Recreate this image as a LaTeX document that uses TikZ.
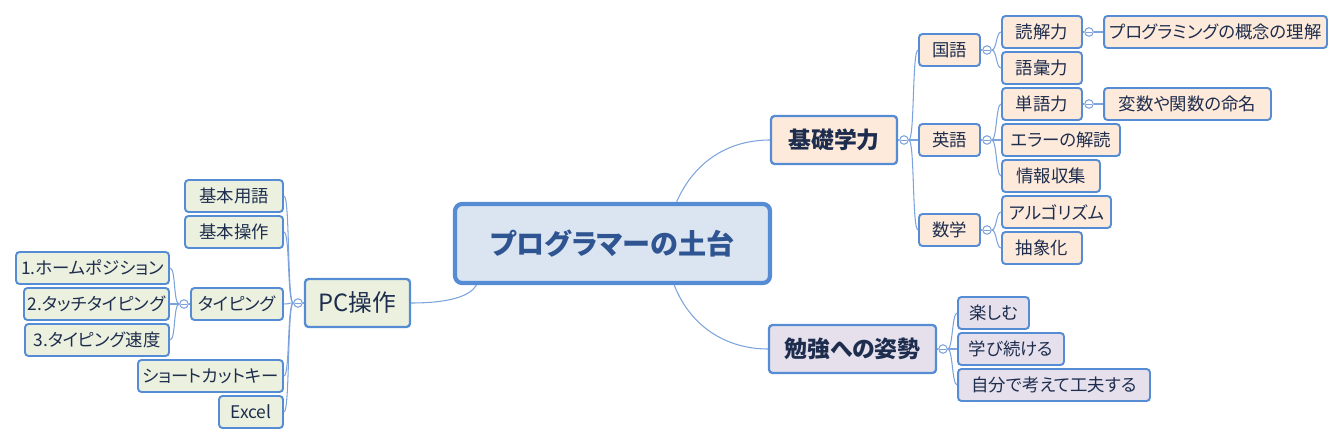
\documentclass[tikz,border=0pt]{standalone}
\usepackage{fontspec}
\setmainfont{Noto Sans CJK JP}[RawFeature={+palt}]
\usepackage{xcolor}
\usepackage{tikz}
\usetikzlibrary{shapes,positioning}

\definecolor{boxblue}{RGB}{86,140,211}
\definecolor{lineblue}{RGB}{125,163,220}
\definecolor{textnavy}{RGB}{30,45,78}
\definecolor{centertext}{RGB}{46,84,145}
\definecolor{centerfill}{RGB}{219,229,241}
\definecolor{peachfill}{RGB}{253,234,218}
\definecolor{greenfill}{RGB}{235,241,222}
\definecolor{lavfill}{RGB}{229,224,236}

\begin{document}
\begin{tikzpicture}[x=0.02cm,y=-0.02cm,
  topic/.style={draw=boxblue,line width=1.1pt,rounded corners=2pt,inner sep=0pt,
    text=textnavy,font=\fontsize{9.9}{11}\selectfont,minimum height=0.64cm},
  maintopic/.style={topic,line width=1.3pt,font=\fontsize{13}{15}\selectfont\bfseries,minimum height=0.96cm},
  centertopic/.style={draw=boxblue,line width=2.4pt,rounded corners=4pt,inner sep=0pt,fill=centerfill,
    text=centertext,font=\fontsize{16}{19}\selectfont\bfseries,minimum width=6.3cm,minimum height=1.58cm},
  collapse/.style={circle,draw=lineblue,fill=white,line width=0.6pt,inner sep=0pt,minimum size=0.17cm,
    path picture={\draw[lineblue,line width=0.5pt] ([xshift=-1.6pt]path picture bounding box.center)
      -- ([xshift=1.6pt]path picture bounding box.center);}},
  branch/.style={draw=lineblue,line width=0.6pt}]
\useasboundingbox (0,0) rectangle (1344,445);

% Central topic
\node[centertopic] (center) at (612.5,243.5) {プログラマーの土台};

% Main topics
\node[maintopic,fill=peachfill,minimum width=2.52cm] (kiso) at (834,140) {基礎学力};
\node[maintopic,fill=lavfill,minimum width=3.34cm] (benkyo) at (852.5,349) {勉強への姿勢};
\node[maintopic,fill=greenfill,minimum width=2.1cm,font=\fontsize{13.5}{15}\selectfont] (pc) at (357.5,303) {PC操作};

\draw[branch] (center.33) .. controls (695,160) and (730,140) .. (kiso.west);
\draw[branch] (center.-34) .. controls (692,330) and (730,349) .. (benkyo.west);
\draw[branch] (center.197) .. controls (470,296) and (450,303) .. (pc.east);

% Collapse buttons
\node[collapse] (ckiso) at (904,140) {};
\node[collapse] (ckokugo) at (987,50) {};
\node[collapse] (ceigo) at (987,140) {};
\node[collapse] (csugaku) at (987,230) {};
\node[collapse] (cdokkai) at (1089,32) {};
\node[collapse] (ctango) at (1089,104) {};
\node[collapse] (cbenkyo) at (943,349) {};
\node[collapse] (cpc) at (298,303) {};
\node[collapse] (ctyping) at (184,304) {};

% 基礎学力
\node[topic,fill=peachfill,minimum width=1.22cm] (kokugo) at (949.5,50) {国語};
\node[topic,fill=peachfill,minimum width=1.22cm] (eigo) at (949.5,140) {英語};
\node[topic,fill=peachfill,minimum width=1.22cm] (sugaku) at (949.5,230) {数学};

\node[topic,fill=peachfill,minimum width=1.6cm] (dokkai) at (1042,32) {読解力};
\node[topic,fill=peachfill,minimum width=1.6cm] (goi) at (1042,68) {語彙力};
\node[topic,fill=peachfill,minimum width=4.46cm] (rikai) at (1215.5,32) {プログラミングの概念の理解};
\node[topic,fill=peachfill,minimum width=1.6cm] (tango) at (1042,104) {単語力};
\node[topic,fill=peachfill,minimum width=3.34cm] (meimei) at (1187.5,104) {変数や関数の命名};
\node[topic,fill=peachfill,minimum width=2.36cm] (error) at (1061,140) {エラーの解読};
\node[topic,fill=peachfill,minimum width=1.96cm] (joho) at (1051,176) {情報収集};
\node[topic,fill=peachfill,minimum width=2.18cm] (algo) at (1056.5,212) {アルゴリズム};
\node[topic,fill=peachfill,minimum width=1.6cm] (chusho) at (1042,248) {抽象化};

\draw[branch] (kiso.east) -- (ckiso.west);
\foreach \child in {kokugo,eigo,sugaku}
  \draw[branch] (ckiso.east) .. controls +(6,0) and +(-6,0) .. (\child.west);
\draw[branch] (kokugo.east) -- (ckokugo.west);
\foreach \child in {dokkai,goi}
  \draw[branch] (ckokugo.east) .. controls +(5,0) and +(-5,0) .. (\child.west);
\draw[branch] (eigo.east) -- (ceigo.west);
\foreach \child in {tango,error,joho}
  \draw[branch] (ceigo.east) .. controls +(5,0) and +(-5,0) .. (\child.west);
\draw[branch] (sugaku.east) -- (csugaku.west);
\foreach \child in {algo,chusho}
  \draw[branch] (csugaku.east) .. controls +(5,0) and +(-5,0) .. (\child.west);
\draw[branch] (dokkai.east) -- (cdokkai.west);
\draw[branch] (cdokkai.east) -- (rikai.west);
\draw[branch] (tango.east) -- (ctango.west);
\draw[branch] (ctango.east) -- (meimei.west);

% 勉強への姿勢
\node[topic,fill=lavfill,minimum width=1.42cm] (tanoshimu) at (993.5,313) {楽しむ};
\node[topic,fill=lavfill,minimum width=2.12cm] (manabi) at (1011,349) {学び続ける};
\node[topic,fill=lavfill,minimum width=3.84cm] (kufu) at (1054,385) {自分で考えて工夫する};

\draw[branch] (benkyo.east) -- (cbenkyo.west);
\foreach \child in {tanoshimu,manabi,kufu}
  \draw[branch] (cbenkyo.east) .. controls +(5,0) and +(-5,0) .. (\child.west);

% PC操作
\node[topic,fill=greenfill,minimum width=1.96cm] (yougo) at (234,196) {基本用語};
\node[topic,fill=greenfill,minimum width=1.96cm] (sousa) at (234,232) {基本操作};
\node[topic,fill=greenfill,minimum width=1.84cm] (typing) at (237,304) {タイピング};
\node[topic,fill=greenfill,minimum width=2.9cm] (shortcut) at (210.5,376) {ショートカットキー};
\node[topic,fill=greenfill,minimum width=1.28cm] (excel) at (251,412) {Excel};

\node[topic,fill=greenfill,minimum width=3.06cm] (home) at (92.5,268) {1.ホームポジション};
\node[topic,fill=greenfill,minimum width=2.9cm] (touch) at (96.5,304) {2.タッチタイピング};
\node[topic,fill=greenfill,minimum width=2.88cm] (speed) at (97,340) {3.タイピング速度};

\draw[branch] (pc.west) -- (cpc.east);
\foreach \child in {yougo,sousa,typing,shortcut,excel}
  \draw[branch] (cpc.west) .. controls +(-6,0) and +(6,0) .. (\child.east);
\draw[branch] (typing.west) -- (ctyping.east);
\foreach \child in {home,touch,speed}
  \draw[branch] (ctyping.west) .. controls +(-6,0) and +(6,0) .. (\child.east);
\end{tikzpicture}
\end{document}
